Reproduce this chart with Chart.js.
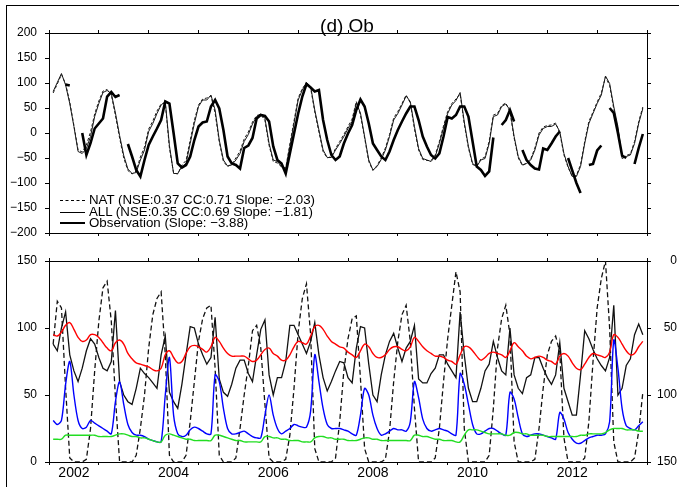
<!DOCTYPE html>
<html>
<head>
<meta charset="utf-8">
<title>(d) Ob</title>
<script src="https://cdn.jsdelivr.net/npm/chart.js@4.4.1/dist/chart.umd.min.js"></script>
<style>
  html, body { margin: 0; padding: 0; background: #fff; }
  #wrap { position: relative; width: 679px; height: 487px; overflow: hidden;
          font-family: "Liberation Sans", Arial, sans-serif; color: #000; }
  #frame { position: absolute; left: 6px; top: 5px; width: 720px; height: 520px;
           border: 1px solid #000; box-sizing: border-box; }
  #topChart { position: absolute; left: 0; top: 0; }
  #bottomChart { position: absolute; left: 0; top: 245px; }
  #title { position: absolute; left: 0; top: 16px; width: 694px; text-align: center;
           font-size: 19px; line-height: 19px; }
  .leg { position: absolute; left: 60px; font-size: 13.3px; line-height: 13px; white-space: nowrap; }
  .smp { display: inline-block; width: 25px; height: 0; vertical-align: middle;
         margin-right: 4px; border-top: 1px solid #000; }
  .smp.dash { border-top: 1px dashed #000; }
  .smp.thick { border-top: 2.5px solid #000; }
</style>
</head>
<body>
<div id="wrap">
  <div id="frame"></div>
  <canvas id="topChart" width="679" height="245"></canvas>
  <canvas id="bottomChart" width="679" height="242"></canvas>
  <div id="title">(d) Ob</div>
  <div class="leg" style="top:193px"><span class="smp dash"></span>NAT (NSE:0.37 CC:0.71 Slope: −2.03)</div>
  <div class="leg" style="top:205px"><span class="smp"></span>ALL (NSE:0.35 CC:0.69 Slope: −1.81)</div>
  <div class="leg" style="top:216px"><span class="smp thick"></span>Observation (Slope: −3.88)</div>
</div>
<script>
// monthly values, one row per year (Jan..Dec), 2002-2013
const START_YEAR = 2002;

// ---- upper panel ----
const natValues = [
  [null, 80, 98, 117, 98, 62, 15, -34, -38, -24, 2, 38],
  [64, 84, 87, 77, 35, -10, -50, -75, -82, -76, -48, -28],
  [8, 24, 44, 58, 60, -30, -80, -82, -64, -55, -14, 25],
  [56, 68, 70, 74, 40, -18, -57, -67, -62, -50, -36, -12],
  [2, 22, 35, 37, 25, -25, -57, -60, -68, -70, -22, 24],
  [70, 89, 100, 90, 42, 2, -37, -50, -47, -31, -17, -3],
  [13, 28, 63, 36, -10, -57, -75, -65, -50, -30, -3, 30],
  [43, 59, 76, 60, 8, -34, -53, -55, -55, -44, -17, 14],
  [43, 59, 68, 78, 18, -30, -63, -66, -52, -48, -16, 36],
  [39, 55, 60, 42, -10, -50, -65, -60, -52, -30, 0, 12],
  [15, 16, 20, 0, -44, -69, -87, -85, -63, -17, 23, 42],
  [62, 80, 112, 95, 48, 8, -50, -45, -42, -17, 23, 52]
].flat();

const allValues = [
  [null, 83, 101, 119, 96, 59, 13, -37, -41, -31, -7, 33],
  [59, 81, 85, 79, 40, -5, -45, -72, -81, -79, -54, -34],
  [3, 19, 39, 56, 63, -25, -81, -81, -67, -61, -21, 19],
  [53, 66, 66, 76, 46, -14, -54, -66, -64, -54, -41, -17],
  [-3, 18, 33, 38, 29, -21, -54, -57, -67, -72, -27, 19],
  [66, 86, 101, 93, 46, 6, -34, -49, -49, -34, -21, -7],
  [9, 23, 60, 40, -7, -54, -74, -67, -53, -34, -7, 26],
  [39, 56, 74, 63, 13, -31, -51, -54, -57, -47, -21, 10],
  [39, 56, 65, 81, 22, -27, -61, -67, -54, -51, -21, 33],
  [36, 53, 58, 46, -7, -47, -64, -61, -54, -34, -4, 9],
  [13, 13, 18, 3, -41, -67, -87, -87, -67, -21, 19, 39],
  [59, 76, 114, 99, 53, 13, -51, -47, -44, -21, 19, 49]
].flat();

const obsValues = [
  [null, null, null, null, 97, 95, null, null, 0, -44, -20, 9],
  [19, 29, 73, 82, 72, 76, null, -22, -47, -74, -87, -54],
  [-24, -7, 9, 26, 63, 59, 0, -61, -69, -64, -47, -14],
  [13, 21, 23, 53, 66, 49, 6, -47, -61, -64, -71, -30],
  [-25, -10, 29, 36, 34, 23, -27, -54, -61, -81, -41, -1],
  [39, 73, 98, 91, 83, 86, 26, -14, -44, -54, -47, -21],
  [-1, 16, 46, 67, 53, 19, -21, -34, -47, -54, -37, -14],
  [6, 23, 39, 53, 53, 26, -7, -27, -44, -51, -41, -7],
  [32, 29, 36, 53, 53, 33, -17, -67, -74, -86, -77, -9],
  [null, 16, 26, 46, 23, null, -34, -54, -64, -71, -73, -31],
  [-34, -21, -7, 3, null, -50, -75, -100, -120, null, -64, -62],
  [-35, -25, null, 50, 40, 0, -45, -50, null, -62, -30, -2]
].flat();

// ---- lower panel ----
const dashedValues = [
  [null, 88, 120, 115, 55, 3, 0, 0, 0, 2, 25, 68],
  [105, 130, 135, 105, 48, 0, 0, 0, 0, 5, 25, 50],
  [85, 110, 122, 127, 80, 5, 0, 0, 0, 5, 30, 60],
  [90, 107, 115, 117, 70, 5, 0, 0, 0, 3, 25, 50],
  [72, 98, 102, 85, 43, 3, 0, 0, 0, 2, 20, 55],
  [97, 122, 133, 95, 10, 0, 0, 0, 0, 3, 30, 68],
  [92, 107, 109, 62, 10, 0, 0, 0, 0, 2, 23, 60],
  [90, 110, 117, 90, 40, 0, 0, 0, 0, 3, 25, 60],
  [92, 117, 142, 127, 25, 0, 0, 0, 0, 0, 5, 40],
  [85, 107, 117, 95, 15, 0, 0, 0, 0, 2, 25, 55],
  [80, 90, 94, 82, 18, 0, 0, 0, 0, 3, 30, 75],
  [115, 137, 150, 100, 15, 0, 0, 0, 0, 3, 23, 52]
].flat();

const blackValues = [
  [null, 88, 83, 100, 112, 80, 68, 60, 70, 83, 92, 88],
  [78, 70, 68, 75, 113, 60, 50, 45, 43, 55, 70, 66],
  [63, 59, 55, 80, 94, 52, 45, 40, 58, 80, 101, 100],
  [88, 80, 73, 78, 108, 62, 52, 49, 58, 70, 76, 76],
  [66, 60, 80, 99, 106, 65, 50, 63, 63, 75, 102, 102],
  [95, 88, 81, 90, 104, 80, 63, 53, 60, 68, 75, 74],
  [63, 59, 85, 101, 100, 73, 50, 45, 65, 80, 90, 96],
  [85, 75, 85, 90, 102, 62, 59, 59, 66, 70, 80, 80],
  [73, 68, 63, 112, 80, 55, 45, 45, 55, 68, 73, 90],
  [78, 68, 65, 100, 65, 55, 51, 63, 65, 78, 78, 70],
  [63, 58, 65, 89, 55, 45, 35, 35, 65, 98, 92, 84],
  [77, 72, 68, 78, 117, 50, 55, 72, 77, 95, 103, 95]
].flat();

const redValues = [
  [null, 95, 94, 97, 102, 104, 99, 93, 90, 91, 95, 95],
  [93, 89, 85, 83, 89, 91, 88, 81, 77, 74, 73, 72],
  [71, 69, 68, 70, 80, 83, 78, 74, 75, 81, 86, 87],
  [86, 84, 82, 86, 93, 90, 85, 81, 79, 79, 79, 79],
  [77, 75, 76, 80, 84, 85, 81, 79, 76, 76, 80, 86],
  [90, 89, 88, 94, 101, 102, 99, 94, 90, 88, 86, 85],
  [82, 80, 78, 83, 88, 86, 81, 78, 78, 80, 84, 86],
  [86, 84, 83, 86, 93, 90, 86, 83, 81, 79, 79, 78],
  [76, 75, 73, 80, 86, 86, 83, 79, 76, 78, 81, 82],
  [81, 80, 78, 83, 89, 86, 83, 79, 77, 78, 79, 78],
  [76, 75, 73, 79, 81, 79, 74, 70, 69, 73, 78, 81],
  [80, 79, 78, 82, 95, 93, 88, 83, 80, 81, 86, 90]
].flat();

const blueValues = [
  [null, 31, 28, 31, 58, 75, 50, 31, 25, 26, 31, 29],
  [27, 25, 23, 21, 45, 60, 43, 28, 22, 20, 20, 19],
  [17, 16, 15, 15, 50, 78, 35, 21, 19, 20, 24, 26],
  [25, 23, 21, 21, 65, 60, 40, 25, 21, 21, 22, 23],
  [21, 19, 18, 18, 35, 50, 35, 25, 21, 23, 25, 28],
  [27, 26, 26, 38, 80, 60, 40, 28, 25, 25, 25, 24],
  [23, 21, 20, 35, 55, 50, 35, 25, 20, 21, 23, 25],
  [24, 24, 23, 30, 60, 48, 32, 25, 23, 24, 25, 24],
  [23, 21, 20, 66, 58, 43, 28, 21, 21, 23, 25, 25],
  [23, 21, 20, 52, 47, 33, 21, 19, 20, 21, 21, 20],
  [19, 18, 17, 37, 32, 22, 17, 14, 14, 16, 18, 19],
  [20, 20, 21, 30, 91, 70, 40, 27, 25, 24, 27, 30]
].flat();

const greenValues = [
  [null, 17, 17, 17, 20, 20, 20, 20, 20, 20, 20, 20],
  [19, 19, 19, 19, 20, 21, 21, 20, 19, 19, 18, 18],
  [17, 16, 15, 15, 20, 21, 20, 19, 18, 17, 17, 16],
  [16, 16, 16, 16, 20, 20, 19, 18, 17, 16, 16, 15],
  [15, 15, 15, 15, 19, 19, 18, 18, 17, 17, 16, 16],
  [16, 15, 15, 15, 18, 19, 19, 18, 18, 17, 17, 17],
  [16, 16, 16, 17, 18, 18, 17, 17, 16, 16, 16, 16],
  [16, 16, 16, 16, 20, 20, 19, 19, 18, 17, 17, 16],
  [16, 16, 15, 15, 20, 24, 24, 24, 23, 22, 21, 21],
  [21, 21, 20, 20, 22, 22, 21, 21, 20, 20, 20, 20],
  [19, 19, 19, 19, 19, 19, 19, 19, 20, 20, 21, 21],
  [21, 21, 22, 24, 25, 25, 25, 24, 24, 24, 23, 23]
].flat();

const upperTicks = [-200, -150, -100, -50, 0, 50, 100, 150, 200];
const lowerTicks = [0, 50, 100, 150];
const yearLabels = ['2002', '2004', '2006', '2008', '2010', '2012'];

// ---------------------------------------------------------------
const FONT = '"Liberation Sans", Arial, Helvetica, sans-serif';
Chart.defaults.font.family = FONT;
Chart.defaults.color = '#000';

function series(values) {
    return values.map((v, i) => ({ x: START_YEAR + i / 12, y: v }));
}

function isWholeYear(v) {
    return Math.abs(v - Math.round(v)) < 1e-6;
}

function xAxis(position, height, withLabels) {
    return {
        type: 'linear',
        position: position,
        min: START_YEAR,
        max: START_YEAR + 12,
        afterFit: function (scale) {
            // fixed box so both panels keep the same plot frame
            scale.height = height;
            scale.paddingLeft = 0;
            scale.paddingRight = 0;
        },
        border: { display: true, color: '#000', width: 1 },
        grid: {
            drawOnChartArea: false,
            tickLength: 3,
            tickColor: ctx => (ctx.tick && isWholeYear(ctx.tick.value)) ? '#000' : 'rgba(0,0,0,0)'
        },
        ticks: {
            stepSize: 0.5,
            autoSkip: false,
            maxRotation: 0,
            padding: 0,
            font: { size: 14 },
            callback: function (value) {
                if (!withLabels) return '';
                const label = String(Math.floor(value));
                const isMid = Math.abs(value - Math.floor(value) - 0.5) < 1e-6;
                return (isMid && yearLabels.includes(label)) ? label : '';
            }
        }
    };
}

function yAxis(position, tickValues, width, opts) {
    opts = opts || {};
    return {
        type: 'linear',
        position: position,
        min: tickValues[0],
        max: tickValues[tickValues.length - 1],
        reverse: !!opts.reverse,
        afterFit: function (scale) {
            scale.width = width;
            scale.paddingTop = 0;
            scale.paddingBottom = 0;
        },
        afterBuildTicks: function (scale) {
            scale.ticks = tickValues.map(v => ({ value: v }));
        },
        border: { display: true, color: '#000', width: 1 },
        grid: { drawOnChartArea: false, tickLength: 4, tickColor: '#000' },
        ticks: {
            padding: 8,
            crossAlign: opts.crossAlign || 'near',
            font: { size: 12 },
            callback: function (value) {
                if (opts.noLabels) return '';
                return value < 0 ? '\u2212' + Math.abs(value) : String(value);
            }
        }
    };
}

const commonOptions = {
    responsive: false,
    animation: false,
    events: [],
    layout: { padding: { left: 0, right: 2, top: 0, bottom: 0 } },
    plugins: { legend: { display: false }, tooltip: { enabled: false } },
    elements: { point: { radius: 0 }, line: { tension: 0 } }
};

// ==================== UPPER PANEL ====================
new Chart(document.getElementById('topChart'), {
    type: 'line',
    data: {
        datasets: [{
            label: 'Observation',
            data: series(obsValues),
            borderColor: '#000',
            borderWidth: 2.6,
            spanGaps: false,
            order: 1
        }, {
            label: 'ALL',
            data: series(allValues),
            borderColor: '#1a1a1a',
            borderWidth: 1,
            order: 2
        }, {
            label: 'NAT',
            data: series(natValues),
            borderColor: '#1a1a1a',
            borderWidth: 1,
            borderDash: [3, 2],
            order: 3
        }]
    },
    options: Object.assign({}, commonOptions, {
        scales: {
            x: xAxis('bottom', 12, false),
            x2: xAxis('top', 33, false),
            y: yAxis('left', upperTicks, 49),
            y2: yAxis('right', upperTicks, 30, { noLabels: true })
        }
    })
});

// ==================== LOWER PANEL ====================
new Chart(document.getElementById('bottomChart'), {
    type: 'line',
    data: {
        datasets: [{
            label: 'dashed',
            data: series(dashedValues),
            borderColor: '#111',
            borderWidth: 1.3,
            borderDash: [5, 3],
            order: 5
        }, {
            label: 'black',
            data: series(blackValues),
            borderColor: '#111',
            borderWidth: 1.3,
            order: 4
        }, {
            label: 'red',
            data: series(redValues),
            borderColor: '#ff0000',
            borderWidth: 1.4,
            tension: 0.4,
            order: 3
        }, {
            label: 'blue',
            data: series(blueValues),
            borderColor: '#0000ff',
            borderWidth: 1.4,
            tension: 0.3,
            order: 2
        }, {
            label: 'green',
            data: series(greenValues),
            borderColor: '#22dd22',
            borderWidth: 1.4,
            tension: 0.4,
            order: 1
        }]
    },
    options: Object.assign({}, commonOptions, {
        scales: {
            x: xAxis('bottom', 25, true),
            x2: xAxis('top', 16, false),
            y: yAxis('left', lowerTicks, 49),
            y2: yAxis('right', lowerTicks, 30, { reverse: true, crossAlign: 'far' })
        }
    })
});
</script>
</body>
</html>
